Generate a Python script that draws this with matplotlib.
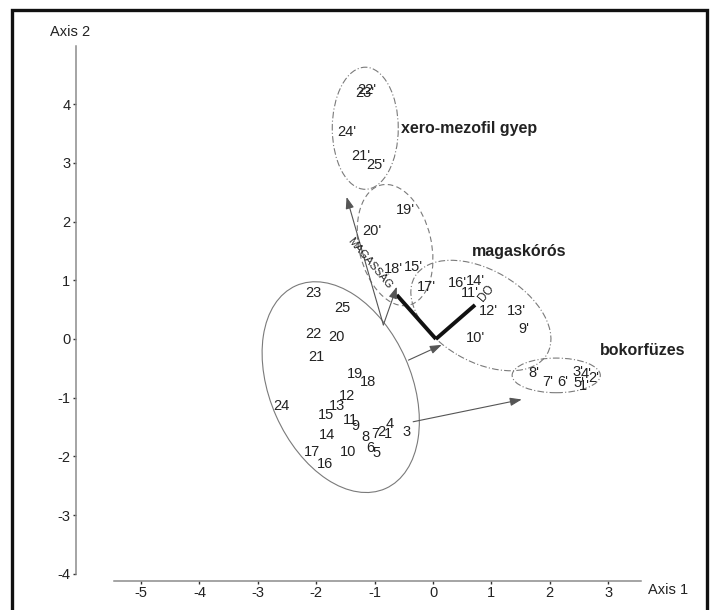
import matplotlib
matplotlib.use('Agg')
import matplotlib.pyplot as plt
from matplotlib.patches import Ellipse, Rectangle

plt.rcParams['font.family'] = ['Liberation Sans', 'DejaVu Sans']
plt.rcParams['axes.unicode_minus'] = False

# ---- data -------------------------------------------------------------
site_labels = ['23', '25', '22', '20', '21', '19', '18', '12', '13', '24', '15', '11', '9',
               '14', '8', '7', '2', '1', '4', '3', '6', '5', '17', '10', '16']
site_x = [-2.05, -1.56, -2.05, -1.65, -2.00, -1.34, -1.11, -1.47, -1.65, -2.59, -1.83, -1.42,
          -1.32, -1.82, -1.15, -0.99, -0.88, -0.77, -0.75, -0.45, -1.08, -0.96, -2.08, -1.45, -1.85]
site_y = [0.79, 0.52, 0.08, 0.03, -0.30, -0.60, -0.73, -0.97, -1.14, -1.14, -1.29, -1.38,
          -1.49, -1.64, -1.67, -1.62, -1.58, -1.61, -1.45, -1.58, -1.86, -1.94, -1.92, -1.92, -2.13]

prime_labels = ["22'", "23'", "24'", "21'", "25'", "19'", "20'", "18'", "15'",
                "17'", "16'", "14'", "11'", "12'", "13'", "9'", "10'",
                "8'", "7'", "6'", "3'", "4'", "5'", "1'", "2'"]
prime_x = [-1.13, -1.16, -1.48, -1.24, -0.98, -0.48, -1.05, -0.68, -0.34,
           -0.11, 0.41, 0.72, 0.63, 0.95, 1.43, 1.55, 0.72,
           1.72, 1.97, 2.23, 2.49, 2.62, 2.50, 2.60, 2.76]
prime_y = [4.25, 4.19, 3.53, 3.11, 2.96, 2.20, 1.84, 1.19, 1.23,
           0.89, 0.96, 0.98, 0.79, 0.48, 0.48, 0.17, 0.01,
           -0.58, -0.73, -0.73, -0.57, -0.60, -0.75, -0.80, -0.67]

# group ellipses: centre x, centre y, width, height, angle
ell_cx = [-1.58, -1.16, -0.65, 0.82, 2.11]
ell_cy = [-0.82, 3.59, 1.60, 0.40, -0.62]
ell_w = [3.78, 2.08, 2.10, 2.62, 1.51]
ell_h = [2.42, 1.13, 1.24, 1.56, 0.59]
ell_ang = [-66, 90, -77, -30, 0]
ell_ls = ['-', (0, (6, 2, 1, 2)), (0, (5, 3)), (0, (6, 2, 1, 2)), (0, (6, 2, 1, 2))]

group_names = ['xero-mezofil gyep', 'magaskórós', 'bokorfüzes']
group_x = [-0.54, 0.66, 2.86]
group_y = [3.59, 1.49, -0.19]

# thin arrows between groups (start -> end)
arr_x0 = [-0.85, -0.85, -0.42, -0.34]
arr_y0 = [0.24, 0.24, -0.36, -1.41]
arr_x1 = [-1.48, -0.62, 0.15, 1.52]
arr_y1 = [2.42, 0.89, -0.10, -1.03]

# environmental vectors
vec_names = ['MAGASSÁG', 'DO']
vec_x = [-0.62, 0.72]
vec_y = [0.75, 0.58]
vec_origin = (0.05, 0.0)

xticks = list(range(-5, 4))
yticks = list(range(-4, 5))

# ---- figure -----------------------------------------------------------
fig = plt.figure(figsize=(7.1, 6.1), dpi=100)
ax = fig.add_axes([0, 0, 1, 1])
ax.set_xlim(-433 / 58.4, (710 - 433) / 58.4)
ax.set_ylim((339 - 610) / 58.7, 339 / 58.7)
ax.patch.set_alpha(0)

for s in ['top', 'right']:
    ax.spines[s].set_visible(False)
ax.spines['left'].set_position(('data', -6.113))
ax.spines['left'].set_bounds(-4, 4.99)
ax.spines['bottom'].set_position(('data', -4.12))
ax.spines['bottom'].set_bounds(-5.46, 3.57)
for s in ['left', 'bottom']:
    ax.spines[s].set_color('#8c8c8c')
    ax.spines[s].set_linewidth(1.1)

ax.set_xticks(xticks)
ax.set_yticks(yticks)
ax.tick_params(axis='both', direction='out', length=2.5, width=1.0, color='#333333',
               labelsize=10.5, labelcolor='#222222')
ax.tick_params(axis='x', pad=1.5)
ax.tick_params(axis='y', pad=1.5)

ax.text(3.68, -4.28, 'Axis 1', fontsize=10.5, color='#222222', ha='left', va='center')
ax.text(-6.22, 5.23, 'Axis 2', fontsize=10.5, color='#222222', ha='center', va='center')

# ellipses
for cx, cy, w, h, a, ls in zip(ell_cx, ell_cy, ell_w, ell_h, ell_ang, ell_ls):
    ax.add_patch(Ellipse((cx, cy), w, h, angle=a, fill=False, ec='#7a7a7a', lw=0.8, ls=ls))

# thin arrows
for x0, y0, x1, y1 in zip(arr_x0, arr_y0, arr_x1, arr_y1):
    ax.annotate('', xy=(x1, y1), xytext=(x0, y0),
                arrowprops=dict(arrowstyle='-|>,head_length=0.7,head_width=0.25',
                                color='#555555', lw=0.8, shrinkA=0, shrinkB=0))

# environmental vectors
for vx, vy in zip(vec_x, vec_y):
    ax.plot([vec_origin[0], vx], [vec_origin[1], vy], color='#111111', lw=2.8,
            solid_capstyle='butt')
ax.text(-1.08, 1.29, vec_names[0], fontsize=8, rotation=-50, ha='center', va='center',
        color='#222222')
ax.text(0.92, 0.78, vec_names[1], fontsize=8.5, rotation=50, ha='center', va='center',
        color='#222222')

# site labels
for lab, x, y in zip(site_labels, site_x, site_y):
    ax.text(x, y, lab, fontsize=10.5, ha='center', va='center', color='#222222')
for lab, x, y in zip(prime_labels, prime_x, prime_y):
    ax.text(x, y, lab, fontsize=10.5, ha='center', va='center', color='#222222')

for name, x, y in zip(group_names, group_x, group_y):
    ax.text(x, y, name, fontsize=11.5, fontweight='bold', ha='left', va='center',
            color='#222222')

# outer frame
fig.patches.append(Rectangle((12 / 710, -0.02), (707 - 12) / 710, (600 / 610) + 0.02,
                             transform=fig.transFigure, fill=False, ec='#111111', lw=2.4))

fig.savefig('out.png', dpi=100, facecolor='white')
